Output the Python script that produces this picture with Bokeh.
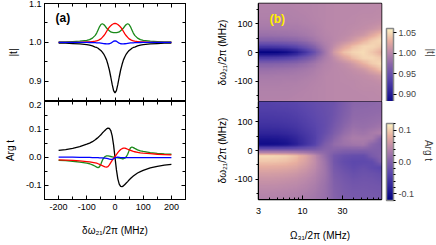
import numpy as np
from bokeh.plotting import figure
from bokeh.layouts import row, column
from bokeh.models import (LinearAxis, LogAxis, FixedTicker, PrintfTickFormatter,
                          LinearColorMapper, ColorBar, Title, Label, Range1d)
from bokeh.embed import file_html
from bokeh.resources import INLINE

FONT = "Liberation Sans"

# ---------------- panel (a) data ----------------
DELTA = [-200, -175, -150, -125, -100, -90, -80, -70, -65, -60, -55, -50, -45, -40, -35, -30, -25,
         -20, -15, -10, -5, 0, 5, 10, 15, 20, 25, 30, 35, 40, 45, 50, 55, 60, 65, 70, 80, 90, 100,
         125, 150, 175, 200]

MOD_BLACK = [0.998, 0.998, 0.997, 0.996, 0.994, 0.993, 0.991, 0.988, 0.987, 0.985, 0.982, 0.979,
             0.975, 0.970, 0.963, 0.955, 0.943, 0.929, 0.911, 0.892, 0.876, 0.870, 0.876, 0.892,
             0.911, 0.929, 0.943, 0.955, 0.963, 0.970, 0.975, 0.979, 0.982, 0.985, 0.987, 0.988,
             0.991, 0.993, 0.994, 0.996, 0.997, 0.998, 0.998]
MOD_RED = [1.000, 1.000, 1.000, 1.000, 1.001, 1.001, 1.002, 1.003, 1.004, 1.005, 1.007, 1.009,
           1.013, 1.017, 1.022, 1.028, 1.034, 1.039, 1.043, 1.046, 1.048, 1.049, 1.048, 1.046,
           1.043, 1.039, 1.034, 1.028, 1.022, 1.017, 1.013, 1.009, 1.007, 1.005, 1.004, 1.003,
           1.002, 1.001, 1.001, 1.000, 1.000, 1.000, 1.000]
MOD_GREEN = [1.001, 1.001, 1.002, 1.003, 1.005, 1.007, 1.011, 1.018, 1.024, 1.032, 1.040, 1.046,
             1.048, 1.046, 1.042, 1.037, 1.033, 1.030, 1.027, 1.026, 1.025, 1.025, 1.025, 1.026,
             1.027, 1.030, 1.033, 1.037, 1.042, 1.046, 1.048, 1.046, 1.040, 1.032, 1.024, 1.018,
             1.011, 1.007, 1.005, 1.003, 1.002, 1.001, 1.001]
MOD_BLUE = [1.000, 1.000, 1.000, 1.000, 0.9998, 0.9997, 0.9995, 0.9992, 0.999, 0.9988, 0.9985,
            0.998, 0.9975, 0.997, 0.9965, 0.996, 0.996, 0.9965, 0.998, 1.0005, 1.003, 1.004,
            1.003, 1.0005, 0.998, 0.9965, 0.996, 0.996, 0.9965, 0.997, 0.9975, 0.998, 0.9985,
            0.9988, 0.999, 0.9992, 0.9995, 0.9997, 0.9998, 1.000, 1.000, 1.000, 1.000]

ARG_BLACK = [0.025, 0.028, 0.032, 0.038, 0.047, 0.051, 0.056, 0.063, 0.067, 0.071, 0.076, 0.081,
             0.087, 0.092, 0.097, 0.102, 0.105, 0.104, 0.096, 0.077, 0.044, 0.000, -0.044,
             -0.077, -0.096, -0.104, -0.105, -0.102, -0.097, -0.092, -0.087, -0.081, -0.076,
             -0.071, -0.067, -0.063, -0.056, -0.051, -0.047, -0.038, -0.032, -0.028, -0.025]
ARG_RED = [-0.009, -0.010, -0.011, -0.013, -0.015, -0.016, -0.018, -0.020, -0.021, -0.023, -0.025,
           -0.027, -0.030, -0.032, -0.034, -0.035, -0.033, -0.027, -0.019, -0.011, -0.004, 0.003,
           0.010, 0.017, 0.023, 0.028, 0.031, 0.033, 0.033, 0.031, 0.029, 0.027, 0.025, 0.023,
           0.021, 0.020, 0.018, 0.016, 0.015, 0.013, 0.011, 0.010, 0.009]
ARG_GREEN = [-0.011, -0.012, -0.014, -0.017, -0.021, -0.023, -0.027, -0.032, -0.035, -0.037,
             -0.034, -0.024, -0.011, -0.002, 0.003, 0.005, 0.005, 0.004, 0.003, 0.002, 0.001,
             0.000, -0.001, -0.002, -0.003, -0.004, -0.005, -0.005, -0.003, 0.002, 0.011, 0.024,
             0.034, 0.037, 0.035, 0.032, 0.027, 0.023, 0.021, 0.017, 0.014, 0.012, 0.011]
ARG_BLUE = [0.001, 0.001, 0.001, 0.000, 0.000, 0.000, -0.001, -0.001, -0.001, -0.001, -0.002,
            -0.002, -0.002, -0.003, -0.003, -0.004, -0.005, -0.006, -0.007, -0.007, -0.005,
            -0.002, 0.000, 0.001, 0.000, -0.001, -0.001, -0.001, -0.001, -0.001, -0.001, -0.001,
            -0.001, -0.001, -0.001, -0.001, -0.001, -0.001, -0.001, -0.001, -0.001, -0.001, -0.001]

X_TICKS = [-200, -100, 0, 100, 200]
X_MINOR = [-250, -150, -50, 50, 150, 250]
MOD_TICKS = [0.9, 1.0, 1.1]
MOD_MINOR = [0.85, 0.95, 1.05]
ARG_TICKS = [-0.1, 0.0, 0.1, 0.2]
ARG_MINOR = [-0.15, -0.05, 0.05, 0.15]

# ---------------- panel (b) data ----------------
OMEGA = [3.0, 3.9, 5.0, 6.5, 8.5, 11, 14, 18, 24, 31, 40, 52, 67, 87]      # column centres (MHz)
DROWS = [180, 160, 140, 120, 100, 80, 60, 40, 20, 0, -20, -40, -60, -80, -100, -120, -140, -160, -180]

MOD_MAP = [
    [0.997, 0.997, 0.997, 0.997, 0.997, 0.998, 0.998, 0.999, 1.000, 1.000, 1.000, 1.000, 1.000, 1.001],
    [0.996, 0.996, 0.996, 0.996, 0.997, 0.997, 0.998, 0.999, 1.000, 1.000, 1.000, 1.000, 1.001, 1.001],
    [0.995, 0.995, 0.995, 0.995, 0.996, 0.997, 0.998, 0.999, 1.000, 1.000, 1.000, 1.001, 1.001, 1.002],
    [0.994, 0.994, 0.994, 0.994, 0.995, 0.996, 0.998, 0.999, 1.000, 1.000, 1.001, 1.002, 1.002, 1.003],
    [0.992, 0.992, 0.992, 0.993, 0.993, 0.995, 0.997, 0.999, 1.000, 1.001, 1.001, 1.003, 1.004, 1.007],
    [0.988, 0.988, 0.989, 0.989, 0.990, 0.992, 0.995, 0.999, 1.000, 1.001, 1.003, 1.005, 1.009, 1.016],
    [0.981, 0.981, 0.982, 0.983, 0.985, 0.988, 0.993, 0.998, 1.000, 1.002, 1.006, 1.012, 1.024, 1.040],
    [0.966, 0.966, 0.967, 0.969, 0.972, 0.978, 0.987, 0.996, 1.000, 1.006, 1.015, 1.030, 1.042, 1.049],
    [0.928, 0.928, 0.930, 0.934, 0.942, 0.955, 0.972, 0.991, 1.005, 1.022, 1.036, 1.046, 1.047, 1.040],
    [0.873, 0.873, 0.875, 0.882, 0.898, 0.922, 0.952, 0.985, 1.015, 1.038, 1.046, 1.049, 1.040, 1.027],
    [0.928, 0.928, 0.930, 0.934, 0.942, 0.955, 0.972, 0.991, 1.005, 1.022, 1.036, 1.046, 1.047, 1.040],
    [0.966, 0.966, 0.967, 0.969, 0.972, 0.978, 0.987, 0.996, 1.000, 1.006, 1.015, 1.030, 1.042, 1.049],
    [0.981, 0.981, 0.982, 0.983, 0.985, 0.988, 0.993, 0.998, 1.000, 1.002, 1.006, 1.012, 1.024, 1.040],
    [0.988, 0.988, 0.989, 0.989, 0.990, 0.992, 0.995, 0.999, 1.000, 1.001, 1.003, 1.005, 1.009, 1.016],
    [0.992, 0.992, 0.992, 0.993, 0.993, 0.995, 0.997, 0.999, 1.000, 1.001, 1.001, 1.003, 1.004, 1.007],
    [0.994, 0.994, 0.994, 0.994, 0.995, 0.996, 0.998, 0.999, 1.000, 1.000, 1.001, 1.002, 1.002, 1.003],
    [0.995, 0.995, 0.995, 0.995, 0.996, 0.997, 0.998, 0.999, 1.000, 1.000, 1.000, 1.001, 1.001, 1.002],
    [0.996, 0.996, 0.996, 0.996, 0.997, 0.997, 0.998, 0.999, 1.000, 1.000, 1.000, 1.000, 1.001, 1.001],
    [0.997, 0.997, 0.997, 0.997, 0.997, 0.998, 0.998, 0.999, 1.000, 1.000, 1.000, 1.000, 1.000, 1.001],
]

ARG_MAP = [
    [-0.040, -0.040, -0.037, -0.036, -0.034, -0.030, -0.025, -0.022, -0.018, -0.005, 0.006, 0.007, 0.008, 0.010],
    [-0.042, -0.042, -0.040, -0.039, -0.037, -0.032, -0.027, -0.023, -0.018, -0.004, 0.007, 0.008, 0.009, 0.011],
    [-0.045, -0.045, -0.044, -0.043, -0.040, -0.035, -0.029, -0.024, -0.017, -0.003, 0.009, 0.010, 0.011, 0.012],
    [-0.050, -0.050, -0.049, -0.048, -0.044, -0.038, -0.031, -0.025, -0.016, -0.001, 0.011, 0.012, 0.013, 0.015],
    [-0.056, -0.056, -0.055, -0.053, -0.049, -0.042, -0.034, -0.026, -0.014, 0.003, 0.014, 0.014, 0.016, 0.019],
    [-0.064, -0.064, -0.063, -0.060, -0.055, -0.046, -0.037, -0.026, -0.010, 0.008, 0.019, 0.017, 0.020, 0.026],
    [-0.076, -0.076, -0.075, -0.071, -0.063, -0.052, -0.040, -0.024, -0.004, 0.015, 0.026, 0.023, 0.030, 0.037],
    [-0.094, -0.094, -0.092, -0.087, -0.075, -0.058, -0.042, -0.016, 0.006, 0.024, 0.033, 0.032, 0.030, -0.001],
    [-0.106, -0.106, -0.104, -0.098, -0.082, -0.060, -0.038, -0.004, 0.014, 0.022, 0.026, 0.028, 0.008, -0.004],
    [0.000, 0.000, 0.000, 0.000, 0.000, 0.000, 0.000, 0.006, 0.005, 0.000, 0.000, 0.000, 0.000, 0.000],
    [0.105, 0.105, 0.103, 0.100, 0.090, 0.072, 0.045, 0.016, -0.012, -0.022, -0.026, -0.027, -0.008, 0.004],
    [0.094, 0.094, 0.093, 0.090, 0.083, 0.068, 0.048, 0.022, -0.014, -0.028, -0.034, -0.033, -0.030, 0.001],
    [0.078, 0.078, 0.077, 0.075, 0.070, 0.060, 0.045, 0.024, -0.010, -0.022, -0.030, -0.024, -0.031, -0.037],
    [0.066, 0.066, 0.065, 0.063, 0.059, 0.052, 0.040, 0.024, -0.006, -0.016, -0.023, -0.019, -0.021, -0.027],
    [0.057, 0.057, 0.056, 0.054, 0.051, 0.045, 0.036, 0.022, -0.002, -0.012, -0.018, -0.016, -0.017, -0.021],
    [0.050, 0.050, 0.049, 0.047, 0.045, 0.040, 0.032, 0.020, 0.000, -0.009, -0.014, -0.013, -0.014, -0.016],
    [0.044, 0.044, 0.043, 0.042, 0.040, 0.036, 0.029, 0.019, 0.002, -0.007, -0.011, -0.011, -0.012, -0.013],
    [0.040, 0.040, 0.039, 0.038, 0.036, 0.032, 0.026, 0.018, 0.003, -0.006, -0.009, -0.010, -0.010, -0.012],
    [0.036, 0.036, 0.035, 0.034, 0.032, 0.029, 0.024, 0.017, 0.004, -0.005, -0.008, -0.009, -0.009, -0.011],
]

OM_TICKS = [3, 10, 30]
OM_MINOR = [4, 5, 6, 7, 8, 9, 20, 40, 50, 60, 70, 80]
D_TICKS = [-100, 0, 100]
D_MINOR = [-150, -50, 50, 150]
CB_MOD_TICKS = [0.90, 0.95, 1.00, 1.05]
CB_ARG_TICKS = [-0.1, 0.0, 0.1]
CB_ARG_MINOR = [-0.12, -0.08, -0.06, -0.04, -0.02, 0.02, 0.04, 0.06, 0.08, 0.12]

# ---------------- palette ----------------
STOPS = [(0.00, (0, 0, 128)), (0.15, (40, 30, 150)), (0.35, (90, 70, 172)),
         (0.52, (135, 100, 170)), (0.68, (185, 135, 170)), (0.84, (232, 175, 160)),
         (1.00, (255, 245, 195))]
pal = []
for i in range(256):
    f = i / 255
    for (f0, c0), (f1, c1) in zip(STOPS[:-1], STOPS[1:]):
        if f0 <= f <= f1:
            t = (f - f0) / (f1 - f0)
            c = [int(round(a + (b - a) * t)) for a, b in zip(c0, c1)]
            pal.append("#%02x%02x%02x" % tuple(c))
            break


def style(ax, labels=True, tin=4, tout=0, min_in=3, min_out=0, size="9px"):
    ax.major_tick_in = tin
    ax.major_tick_out = tout
    ax.minor_tick_in = min_in
    ax.minor_tick_out = min_out
    ax.axis_line_color = "black"
    ax.major_tick_line_color = "black"
    ax.minor_tick_line_color = "black"
    ax.major_label_text_font = FONT
    if labels:
        ax.major_label_text_color = "black"
        ax.major_label_text_font_size = size
        ax.major_label_standoff = 3
    else:
        ax.major_label_text_color = None
        ax.major_label_text_font_size = "1px"
        ax.major_label_standoff = 0
    ax.axis_label_text_font = FONT
    ax.axis_label_text_font_size = "10px"
    ax.axis_label_text_font_style = "normal"
    ax.axis_label_text_color = "black"
    return ax


def base(**kw):
    p = figure(output_backend="svg", toolbar_location=None, x_axis_location=None,
               y_axis_location=None, **kw)
    p.grid.visible = False
    p.outline_line_color = "black"
    p.outline_line_width = 1
    p.border_fill_color = "white"
    return p


def upsample(grid, k):
    """Display-only bilinear resampling of the read grid (for a smooth raster)."""
    g = np.asarray(grid, dtype=float)
    ny, nx = g.shape
    ux = (np.arange(nx * k) + 0.5) / k - 0.5
    uy = (np.arange(ny * k) + 0.5) / k - 0.5
    tmp = np.array([np.interp(ux, np.arange(nx), r) for r in g])
    out = np.array([np.interp(uy, np.arange(ny), c) for c in tmp.T]).T
    return out


xtick = lambda: FixedTicker(ticks=X_TICKS, minor_ticks=X_MINOR)

# ---- (a) top: |t|
pa1 = base(frame_width=141, frame_height=98, x_range=Range1d(-250, 250), y_range=Range1d(0.848, 1.1),
           min_border_left=44, min_border_right=5, min_border_top=3, min_border_bottom=0)
ya1 = style(LinearAxis(ticker=FixedTicker(ticks=MOD_TICKS, minor_ticks=MOD_MINOR),
                       formatter=PrintfTickFormatter(format="%.1f"), axis_label="|t|"))
ya1.axis_label_standoff = 7
pa1.add_layout(ya1, "left")
pa1.add_layout(style(LinearAxis(ticker=FixedTicker(ticks=MOD_TICKS, minor_ticks=MOD_MINOR)), labels=False), "right")
pa1.add_layout(style(LinearAxis(ticker=xtick()), labels=False), "above")
pa1.add_layout(style(LinearAxis(ticker=xtick()), labels=False), "below")
pa1.line(DELTA, MOD_BLACK, line_color="black", line_width=1.3)
pa1.line(DELTA, MOD_GREEN, line_color="#1a8a1a", line_width=1.3)
pa1.line(DELTA, MOD_RED, line_color="#ff0000", line_width=1.3)
pa1.line(DELTA, MOD_BLUE, line_color="#0000ff", line_width=1.3)
pa1.add_layout(Label(x=-211, y=1.063, text="(a)", text_font=FONT, text_font_size="12px",
                     text_font_style="bold", text_baseline="middle", text_color="black"))

# ---- (a) bottom: Arg t
pa2 = base(frame_width=141, frame_height=98, x_range=Range1d(-250, 250), y_range=Range1d(-0.151, 0.2),
           min_border_left=44, min_border_right=5, min_border_top=0, min_border_bottom=44)
ya2 = style(LinearAxis(ticker=FixedTicker(ticks=ARG_TICKS, minor_ticks=ARG_MINOR),
                       formatter=PrintfTickFormatter(format="%.1f"), axis_label="Arg t"))
ya2.axis_label_standoff = 7
pa2.add_layout(ya2, "left")
pa2.add_layout(style(LinearAxis(ticker=FixedTicker(ticks=ARG_TICKS, minor_ticks=ARG_MINOR)), labels=False), "right")
pa2.add_layout(style(LinearAxis(ticker=xtick()), labels=False), "above")
xb = style(LinearAxis(ticker=xtick(), formatter=PrintfTickFormatter(format="%d"),
                      axis_label="δω₂₁/2π (MHz)"))
xb.major_label_standoff = 4
xb.axis_label_standoff = 12
pa2.add_layout(xb, "below")
pa2.line(DELTA, ARG_BLACK, line_color="black", line_width=1.3)
pa2.line(DELTA, ARG_GREEN, line_color="#1a8a1a", line_width=1.3)
pa2.line(DELTA, ARG_RED, line_color="#ff0000", line_width=1.3)
pa2.line(DELTA, ARG_BLUE, line_color="#0000ff", line_width=1.3)

# ---- (b) heat maps
n = len(OMEGA)
ratio = (OMEGA[-1] / OMEGA[0]) ** (1.0 / (n - 1))
om_lo = OMEGA[0] / np.sqrt(ratio)
om_hi = OMEGA[-1] * np.sqrt(ratio)
dstep = abs(DROWS[0] - DROWS[1])
d_lo = min(DROWS) - dstep / 2
d_hi = max(DROWS) + dstep / 2

mod_mapper = LinearColorMapper(palette=pal, low=0.872, high=1.06)
arg_mapper = LinearColorMapper(palette=pal, low=-0.121, high=0.121)


def heat(grid, mapper, top, bottom):
    p = base(frame_width=123, frame_height=98, x_axis_type="log", x_range=Range1d(3, 87),
             y_range=Range1d(-170, 170), min_border_left=68, min_border_right=54,
             min_border_top=top, min_border_bottom=bottom)
    p.outline_line_width = 1.5
    arr = upsample(np.array(grid)[::-1], 10)
    p.image(image=[arr], x=om_lo, y=d_lo, dw=om_hi - om_lo, dh=d_hi - d_lo, color_mapper=mapper)
    ya = style(LinearAxis(ticker=FixedTicker(ticks=D_TICKS, minor_ticks=D_MINOR),
                          formatter=PrintfTickFormatter(format="%d"), axis_label="δω₂₁/2π (MHz)"),
               tin=0, tout=3, min_in=0, min_out=2)
    ya.axis_label_standoff = 3
    p.add_layout(ya, "left")
    return p


pb1 = heat(MOD_MAP, mod_mapper, 3, 0)
pb1.add_layout(Label(x=4.07, y=116, text="(b)", text_font=FONT, text_font_size="12px",
                     text_font_style="bold", text_baseline="middle", text_color="#ffee00"))
cb1 = ColorBar(color_mapper=mod_mapper, ticker=FixedTicker(ticks=CB_MOD_TICKS),
               formatter=PrintfTickFormatter(format="%.2f"), width=7, height=77, padding=0,
               margin=0, location=(5, -4), bar_line_color="#888888", bar_line_width=1.5,
               major_tick_in=0, major_tick_out=3, major_tick_line_color="black",
               major_label_text_font=FONT, major_label_text_font_size="9px", label_standoff=2)
pb1.add_layout(cb1, "right")
pb1.add_layout(Title(text="|t|", align="center", text_font=FONT, text_font_size="10px",
                     text_font_style="normal"), "right")

pb2 = heat(ARG_MAP, arg_mapper, 0, 44)
xl = style(LogAxis(ticker=FixedTicker(ticks=OM_TICKS, minor_ticks=OM_MINOR),
                   formatter=PrintfTickFormatter(format="%d"), axis_label="Ω₃₁/2π (MHz)"),
           tin=4, tout=0, min_in=2, min_out=0)
xl.major_label_standoff = 8
xl.axis_label_standoff = 13
pb2.add_layout(xl, "below")
cb2 = ColorBar(color_mapper=arg_mapper, ticker=FixedTicker(ticks=CB_ARG_TICKS, minor_ticks=CB_ARG_MINOR),
               formatter=PrintfTickFormatter(format="%.1f"), width=7, height=77, padding=0,
               margin=0, location=(5, -1), bar_line_color="#888888", bar_line_width=1.5,
               major_tick_in=0, major_tick_out=3, minor_tick_in=0, minor_tick_out=2,
               major_tick_line_color="black", minor_tick_line_color="black",
               major_label_text_font=FONT, major_label_text_font_size="9px", label_standoff=2)
pb2.add_layout(cb2, "right")
pb2.add_layout(Title(text="Arg t", align="center", text_font=FONT, text_font_size="10px",
                     text_font_style="normal"), "right")

layout = row(column(pa1, pa2, spacing=0), column(pb1, pb2, spacing=0), spacing=0)

with open("out.html", "w") as f:
    f.write(file_html(layout, INLINE))
